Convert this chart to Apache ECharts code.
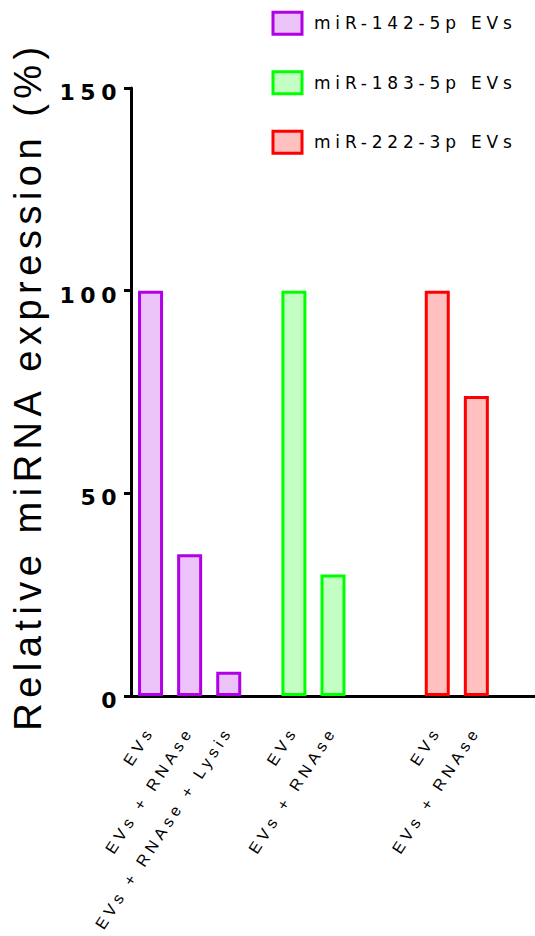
<!DOCTYPE html>
<html>
<head>
<meta charset="utf-8">
<script src="https://cdn.jsdelivr.net/npm/echarts@6/dist/echarts.min.js"></script>
<style>
  html, body { margin: 0; padding: 0; background: #fff; }
  #chart { width: 535px; height: 936px; }
</style>
</head>
<body>
<div id="chart"></div>
<script>
// ---- data ----
const seriesNames = ['miR-142-5p EVs', 'miR-183-5p EVs', 'miR-222-3p EVs'];
const categories142 = ['EVs', 'EVs + RNAse', 'EVs + RNAse + Lysis'];
const values142 = [100, 35, 6];
const categories183 = ['EVs', 'EVs + RNAse'];
const values183 = [100, 30];
const categories222 = ['EVs', 'EVs + RNAse'];
const values222 = [100, 74];
const yTicks = [0, 50, 100, 150];

// ---- layout (slots on a fine category axis) ----
const groups = [
  { cats: categories142, vals: values142 },
  { cats: categories183, vals: values183 },
  { cats: categories222, vals: values222 }
];
const LEAD = 1, STEP = 3, GAP_BEFORE = [0, 2, 5], TOTAL_SLOTS = 31;
const axisCats = new Array(TOTAL_SLOTS).fill('');
const seriesData = groups.map(() => new Array(TOTAL_SLOTS).fill(null));
let slot = LEAD;
groups.forEach((g, gi) => {
  slot += GAP_BEFORE[gi];
  g.cats.forEach((c, ci) => {
    axisCats[slot] = c;
    seriesData[gi][slot] = g.vals[ci];
    slot += STEP;
  });
});

const borderColors = ['#B000E6', '#00FF00', '#FF0000'];
const fillColors = ['#EBC3F8', '#C3FFC3', '#FFC0C0'];
const FONT = 'Liberation Sans, Arial, Helvetica, sans-serif';
const WIDE_FONT = 'DejaVu Sans, Liberation Sans, sans-serif';

const chart = echarts.init(document.getElementById('chart'), null, { renderer: 'svg' });
chart.setOption({
  animation: false,
  backgroundColor: '#fff',
  legend: {
    orient: 'vertical',
    left: 271.5,
    top: 10.8,
    padding: 0,
    itemWidth: 29,
    itemHeight: 22,
    itemGap: 34.5,
    icon: 'rect',
    itemStyle: { borderWidth: 3 },
    textStyle: { fontFamily: WIDE_FONT, fontSize: 17, lineHeight: 22, color: '#000', padding: [0, 0, 0, 7] },
    data: seriesNames
  },
  grid: { left: 131, right: 0, top: 88, bottom: 240, containLabel: false, outerBoundsMode: 'none' },
  xAxis: {
    type: 'category',
    data: axisCats,
    axisLine: { lineStyle: { color: '#000', width: 3 } },
    axisTick: { show: false },
    axisLabel: {
      interval: 0, rotate: 57, margin: 32,
      fontFamily: FONT, fontSize: 16, color: '#000'
    }
  },
  yAxis: {
    type: 'value',
    min: yTicks[0], max: yTicks[yTicks.length - 1], interval: 50,
    name: 'Relative miRNA expression (%)',
    nameLocation: 'middle',
    nameRotate: 90,
    nameGap: 84,
    nameTextStyle: { fontFamily: FONT, fontSize: 38, color: '#000', padding: [0, 0, 0, 12] },
    splitLine: { show: false },
    axisLine: { show: true, lineStyle: { color: '#000', width: 3 } },
    axisTick: { show: true, length: 7, lineStyle: { color: '#000', width: 3 } },
    axisLabel: {
      margin: 9, fontFamily: WIDE_FONT, fontSize: 22, fontWeight: 'bold', color: '#000',
      verticalAlign: 'top', lineHeight: 9
    }
  },
  series: seriesNames.map((name, i) => ({
    name: name,
    type: 'bar',
    data: seriesData[i],
    barWidth: 25,
    barGap: '-100%',
    itemStyle: { color: fillColors[i], borderColor: borderColors[i], borderWidth: 3 }
  }))
});

function applySpacing() {
  document.querySelectorAll('#chart text').forEach(t => {
    const fs = parseFloat(getComputedStyle(t).fontSize);
    let ls;
    if (fs >= 30) ls = 5.5;
    else if (fs >= 19) ls = 5.5;
    else if (fs >= 17) ls = 4.8;
    else ls = 4.5;
    t.style.letterSpacing = ls + 'px';
  });
}
applySpacing();
chart.on('finished', applySpacing);
</script>
</body>
</html>
